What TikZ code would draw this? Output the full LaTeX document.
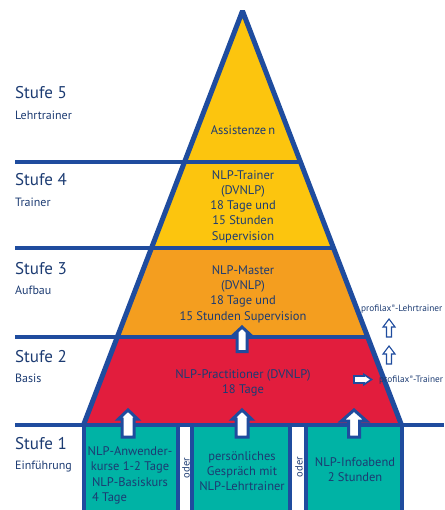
\documentclass[tikz,border=0pt]{standalone}
\usepackage{fontspec}
\setmainfont{PT Sans}
\usepackage{calc}
\definecolor{pblue}{HTML}{1F4C9E}
\definecolor{ptext}{HTML}{1C3B72}
\definecolor{pyellow}{HTML}{FCC50E}
\definecolor{porange}{HTML}{F49E1F}
\definecolor{pred}{HTML}{E21D3D}
\definecolor{pteal}{HTML}{00B3A5}
\newcommand\regmark{\raisebox{0.6ex}{\scalebox{0.55}{®}}}
% upward block arrow: style, x, tip, head base, bottom, head half width, shaft half width
\newcommand\upblock[7]{%
  \draw[#1] ({#2-#7},#5) -- ({#2-#7},#4) -- ({#2-#6},#4) -- (#2,#3)
    -- ({#2+#6},#4) -- ({#2+#7},#4) -- ({#2+#7},#5) -- cycle;}
\tikzset{
  edge/.style={draw=pblue, line width=5pt, line join=bevel},
  rule/.style={draw=pblue, line width=4.5pt},
  box/.style={fill=pteal, draw=pblue, line width=4pt},
  bigarrow/.style={fill=white, draw=pblue, line width=3pt, line join=miter},
  smallarrow/.style={fill=white, draw=pblue, line width=1.1pt, line join=miter},
  stufe/.style={anchor=base west, inner sep=0pt, text=ptext, font=\fontsize{17}{20}\selectfont},
  sub/.style={anchor=base west, inner sep=0pt, text=ptext, font=\fontsize{12}{14}\selectfont},
  inner/.style={align=center, inner sep=0pt, text=ptext, font=\fontsize{12.5}{15.3}\selectfont},
  oder/.style={rotate=90, inner sep=0pt, text=ptext, font=\fontsize{10.5}{12}\selectfont},
  note/.style={anchor=base west, inner sep=0pt, text=ptext, font=\fontsize{9.3}{11}\selectfont},
}
\begin{document}
\begin{tikzpicture}[x=1pt,y=-1pt]
\useasboundingbox (0,0) rectangle (444,510);

% pyramid corners
\coordinate (apex) at (242.5,11);
\coordinate (l4) at (184.5,162);  \coordinate (r4) at (300.5,162);
\coordinate (l3) at (151.5,248);  \coordinate (r3) at (333.5,248);
\coordinate (l2) at (117.3,337);  \coordinate (r2) at (367.7,337);
\coordinate (l1) at (83.5,425);   \coordinate (r1) at (401.5,425);

% level fills
\fill[pyellow] (apex) -- (l3) -- (r3) -- cycle;
\fill[porange] (l3) -- (l2) -- (r2) -- (r3) -- cycle;
\fill[pred] (l2) -- (l1) -- (r1) -- (r2) -- cycle;

% level 1 boxes
\draw[box] (83.5,425) rectangle (178,530);
\draw[box] (192,425) rectangle (290,530);
\draw[box] (306,425) rectangle (401.5,530);

% pyramid outline
\draw[edge] (l1) -- (apex) -- (r1);

% level separators
\coordinate (s5) at (15,162);
\coordinate (s4) at (15,248);
\coordinate (s3) at (15,337);
\coordinate (s2) at (15,425);
\coordinate (e2) at (444,425);
\draw[rule] (s5) -- (r4);
\draw[rule] (s4) -- (r3);
\draw[rule] (s3) -- (r2);
\draw[rule] (s2) -- (e2);

% level labels
\node[stufe] (st5) at (15,99) {Stufe 5};
\node[sub] (su5) at (15,119.5) {Lehrtrainer};
\node[stufe] (st4) at (15,186) {Stufe 4};
\node[sub] (su4) at (15,206.5) {Trainer};
\node[stufe] (st3) at (15,274) {Stufe 3};
\node[sub] (su3) at (15,294.5) {Aufbau};
\node[stufe] (st2) at (15,362) {Stufe 2};
\node[sub] (su2) at (15,382.5) {Basis};
\node[stufe] (st1) at (15,449) {Stufe 1};
\node[sub] (su1) at (15,469.5) {Einführung};

% level contents
\node[inner] (t5) at (243,130) {Assistenze\hspace{2pt}n};
\node[inner] (t4) at (243,206.5) {NLP-Trainer\\(DVNLP)\\18 Tage und\\15 Stunden\\Supervision};
\node[inner] (t3) at (243,294) {NLP-Master\\(DVNLP)\\18 Tage und\\15 Stunden Supervision};
\node[inner] (t2) at (243,383) {NLP-Practitioner (DVNLP)\\18 Tage};
\node[inner] (b1) at (130,475.5) {NLP-Anwender-\\kurse 1-2 Tage\\NLP-Basiskurs\\\makebox[\widthof{NLP-Basiskurs}][l]{4 Tage}};
\node[inner] (b2) at (242,471) {persönliches\\Gespräch mit\\NLP-Lehrtrainer};
\node[inner] (b3) at (355,469.5) {NLP-Infoabend\\2 Stunden};
\node[oder] (o1) at (186,468) {oder};
\node[oder] (o2) at (299,467) {oder};

% progression arrows
\upblock{bigarrow}{128}{410}{419}{437}{9.5}{6}
\upblock{bigarrow}{242}{410}{419}{437}{9.5}{6}
\upblock{bigarrow}{354}{410}{421}{437}{12.5}{5.5}
\upblock{bigarrow}{242}{327}{334}{351.5}{7.5}{5}

% profilax path
\node[note] (pl) at (361,311.5) {profilax\regmark-Lehrtrainer};
\node[note] (pt) at (379,382.5) {profilax\regmark-Trainer};
\upblock{smallarrow}{389}{319}{327}{337}{6}{2.5}
\upblock{smallarrow}{389}{346}{354}{364}{6}{2.5}
\draw[smallarrow, line width=1.6pt] (354,376) -- (364,376) -- (364,374.5) -- (371.5,379.5)
  -- (364,384.5) -- (364,383) -- (354,383) -- cycle;
\end{tikzpicture}
\end{document}
